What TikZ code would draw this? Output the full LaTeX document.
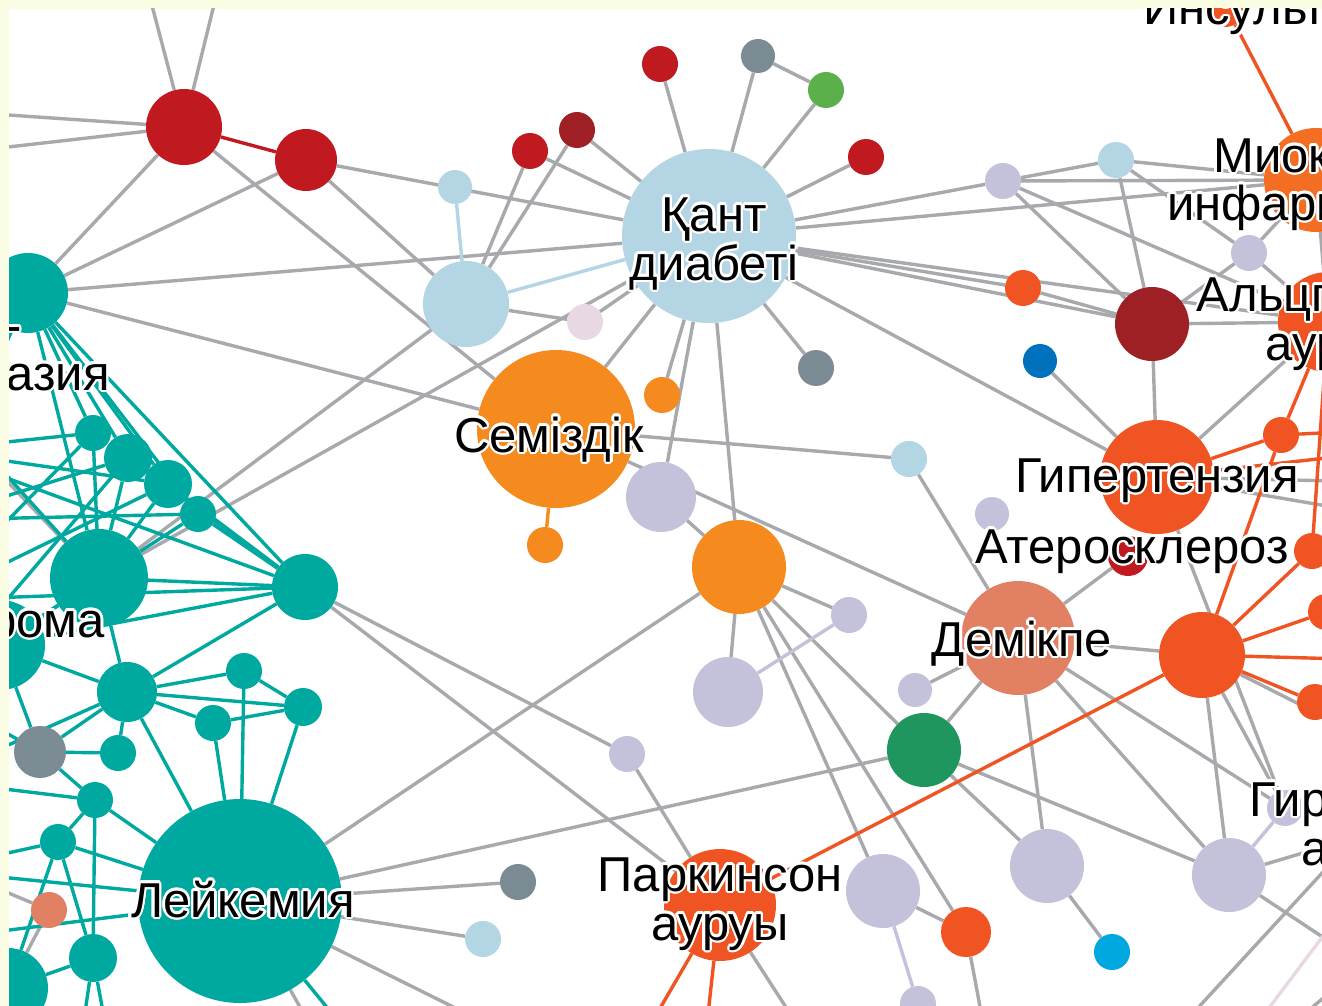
\documentclass[tikz,border=0pt]{standalone}
\usepackage{fontspec}
\setmainfont{Liberation Sans}
\usetikzlibrary{backgrounds}

\definecolor{paper}{RGB}{250,252,228}
\definecolor{edgegray}{RGB}{167,169,172}
\definecolor{cteal}{RGB}{0,169,160}
\definecolor{cred}{RGB}{193,25,32}
\definecolor{cdarkred}{RGB}{158,32,37}
\definecolor{clightblue}{RGB}{180,213,228}
\definecolor{clavender}{RGB}{196,194,219}
\definecolor{corange}{RGB}{245,139,31}
\definecolor{corangered}{RGB}{240,84,35}
\definecolor{cmiokard}{RGB}{243,110,34}
\definecolor{csalmon}{RGB}{225,128,99}
\definecolor{cslate}{RGB}{122,139,148}
\definecolor{cgreen}{RGB}{92,176,75}
\definecolor{cdarkgreen}{RGB}{31,150,94}
\definecolor{cpink}{RGB}{232,216,228}
\definecolor{cblue}{RGB}{0,113,189}
\definecolor{ccyan}{RGB}{0,168,225}

\tikzset{
  blob/.style 2 args={circle, fill=#1, inner sep=0pt, minimum size={2*#2}},
  link/.style={draw=edgegray, line width=3.4pt},
  tlink/.style={draw=cteal, line width=3.4pt},
  olink/.style={draw=corangered, line width=3.4pt},
  rlink/.style={draw=cred, line width=3.4pt},
  blink/.style={draw=clightblue, line width=3.4pt},
  vlink/.style={draw=clavender, line width=3.4pt},
  orlink/.style={draw=corange, line width=3.4pt},
  plink/.style={draw=cpink, line width=3.4pt},
  lbl/.style={font=\fontsize{49}{49}\selectfont, inner sep=0pt, align=center, text=black},
}

% label with a thin white halo round the letters
\newcommand\halolabel[4][]{%
  \foreach \ang in {0,22.5,...,337.5}
    \node[lbl, #1, text=white, shift={(\ang:2.5pt)}] at (#3) {#4};
  \node[lbl, #1] (#2) at (#3) {#4};
}

\pgfdeclarelayer{background}
\pgfsetlayers{background,main}

\begin{document}
\begin{tikzpicture}[x=1pt, y=-1pt]
\useasboundingbox (0,0) rectangle (1322,1006);

\begin{scope}
\clip (9,9) rectangle (1322,1006);

% ends of links that leave the frame
\coordinate (up1) at (140,-40);
\coordinate (up2) at (225,-40);
\coordinate (lf1) at (-80,109);
\coordinate (lf2) at (-80,157);
\coordinate (gl1) at (-70,400);
\coordinate (gl2) at (-70,860);
\coordinate (oLa) at (-70,390);
\coordinate (oLb) at (-70,450);
\coordinate (oLc) at (-70,520);
\coordinate (oLd) at (-70,600);
\coordinate (oLe) at (-70,690);
\coordinate (oLf) at (-70,780);
\coordinate (oLg) at (-70,870);
\coordinate (oLh) at (-70,940);
\coordinate (rHTa) at (1380,452);
\coordinate (rHTb) at (1380,482);
\coordinate (rHTc) at (1380,515);
\coordinate (rOR2) at (1380,430);
\coordinate (rOR4) at (1380,660);
\coordinate (rOR4g) at (1380,745);
\coordinate (rL9a) at (1380,830);
\coordinate (rL9b) at (1380,975);
\coordinate (bOR7) at (990,1060);
\coordinate (bPAa) at (630,1060);
\coordinate (bPAb) at (703,1060);
\coordinate (bPAc) at (820,1060);
\coordinate (bLKa) at (560,1060);
\coordinate (bLKb) at (330,1060);
\coordinate (bLKc) at (370,1060);
\coordinate (bT11a) at (78,1060);
\coordinate (bT11b) at (112,1060);
\coordinate (bx1) at (1150,1060);
\coordinate (rx1) at (1380,810);
\coordinate (bx2) at (1230,1060);
\coordinate (rx2) at (1380,860);
\coordinate (bx3) at (1250,1060);
\coordinate (rx3) at (1380,950);

% top row
\node[blob={cred}{38}] (R1) at (184,127) {};
\node[blob={cred}{31}] (R2) at (306,160) {};
\node[blob={clightblue}{17}] (LB1) at (455,187) {};
\node[blob={cred}{18}] (RS1) at (530,151) {};
\node[blob={cdarkred}{18}] (DR1) at (577,130) {};
\node[blob={cred}{18}] (RS2) at (660,64) {};
\node[blob={cslate}{17}] (SL1) at (758,56) {};
\node[blob={cgreen}{18}] (G1) at (826,90) {};
\node[blob={cred}{18}] (RS3) at (866,157) {};
\node[blob={clightblue}{87}] (QD) at (709,236) {};
\node[blob={clightblue}{43}] (LB2) at (466,304) {};
\node[blob={cpink}{18}] (PK) at (585,322) {};

% right side
\node[blob={corangered}{22}] (IN) at (1225,5) {};
\node[blob={clavender}{18}] (L1) at (1003,181) {};
\node[blob={clightblue}{18}] (LB4) at (1116,160) {};
\node[blob={cmiokard}{52}] (MI) at (1316,180) {};
\node[blob={clavender}{18}] (L2) at (1249,253) {};
\node[blob={corangered}{18}] (OR1) at (1023,288) {};
\node[blob={cdarkred}{37}] (DR2) at (1152,324) {};
\node[blob={corangered}{50}] (AZ) at (1328,322) {};
\node[blob={cblue}{17}] (BL) at (1040,361) {};
\node[blob={corangered}{57}] (HT) at (1157,477) {};
\node[blob={cred}{20}] (AT) at (1128,556) {};
\node[blob={corangered}{18}] (OR2) at (1281,435) {};
\node[blob={corangered}{18}] (OR3) at (1312,551) {};
\node[blob={corangered}{43}] (OR4) at (1202,655) {};
\node[blob={corangered}{18}] (OR5) at (1326,612) {};
\node[blob={corangered}{18}] (OR6) at (1315,702) {};
\node[blob={csalmon}{57}] (DM) at (1018,638) {};
\node[blob={clavender}{17}] (L6) at (992,514) {};
\node[blob={clavender}{17}] (L7) at (915,690) {};
\node[blob={cdarkgreen}{37}] (DG) at (924,750) {};
\node[blob={clavender}{37}] (L8) at (1047,866) {};
\node[blob={clavender}{37}] (L9) at (1229,875) {};
\node[blob={clavender}{18}] (L12) at (1285,808) {};
\node[blob={ccyan}{18}] (CY) at (1112,952) {};

% middle
\node[blob={cslate}{18}] (SL2) at (816,368) {};
\node[blob={corange}{18}] (O1) at (662,395) {};
\node[blob={corange}{79}] (SZ) at (556,429) {};
\node[blob={corange}{18}] (O2) at (545,545) {};
\node[blob={clavender}{35}] (L3) at (661,497) {};
\node[blob={corange}{47}] (O3) at (739,567) {};
\node[blob={clavender}{18}] (L4) at (849,615) {};
\node[blob={clavender}{35}] (L5) at (728,692) {};
\node[blob={clightblue}{18}] (LB3) at (909,459) {};
\node[blob={clavender}{18}] (L13) at (627,754) {};
\node[blob={clavender}{37}] (L10) at (883,891) {};
\node[blob={corangered}{25}] (OR7) at (966,932) {};
\node[blob={clavender}{18}] (L11) at (918,1004) {};
\node[blob={corangered}{56}] (PA) at (720,905) {};
\node[blob={cslate}{18}] (SL3) at (518,882) {};
\node[blob={clightblue}{18}] (LB5) at (483,939) {};

% teal cluster on the left
\node[blob={cteal}{40}] (T1) at (28,293) {};
\node[blob={cteal}{18}] (TA) at (93,433) {};
\node[blob={cteal}{24}] (TB) at (128,458) {};
\node[blob={cteal}{24}] (TC) at (168,484) {};
\node[blob={cteal}{18}] (TD) at (198,514) {};
\node[blob={cteal}{49}] (T2) at (99,578) {};
\node[blob={cteal}{33}] (T3) at (305,587) {};
\node[blob={cteal}{45}] (LY) at (0,645) {};
\node[blob={cteal}{30}] (T4) at (127,692) {};
\node[blob={cteal}{18}] (T5) at (244,671) {};
\node[blob={cteal}{19}] (T6) at (303,707) {};
\node[blob={cteal}{18}] (T7) at (213,723) {};
\node[blob={cslate}{26}] (GR) at (40,752) {};
\node[blob={cteal}{18}] (T8) at (118,753) {};
\node[blob={cteal}{18}] (T9) at (95,800) {};
\node[blob={cteal}{18}] (T10) at (58,842) {};
\node[blob={csalmon}{18}] (SA) at (49,910) {};
\node[blob={cteal}{24}] (T11) at (93,958) {};
\node[blob={cteal}{40}] (T12) at (8,988) {};
\node[blob={cteal}{102}] (LK) at (240,901) {};

% labels (base = baseline of the last line)
\halolabel[anchor=base]{QDl}{714,280}{Қант\\диабеті}
\halolabel[anchor=base]{SZl}{549,452}{Семіздік}
\halolabel[anchor=base]{HTl}{1157,492}{Гипертензия}
\halolabel[anchor=base]{ATl}{1132,563}{Атеросклероз}
\halolabel[anchor=base]{DMl}{1022,656}{Демікпе}
\halolabel[anchor=base]{LKl}{243,917}{Лейкемия}
\halolabel[anchor=base]{PAl}{720,940}{Паркинсон\\ауруы}
\halolabel[anchor=base]{AZl}{1334,360}{Альцгеймер\\ауруы}
\halolabel[anchor=base]{L12l}{1370,865}{Гиршпрунг\\ауруы}
\halolabel[anchor=base west]{MIl}{1213,172}{Миокард}
\halolabel[anchor=base west]{MIm}{1167,220}{инфаркті}
\halolabel[anchor=base west]{INl}{1143,25}{Инсульт}
\halolabel[anchor=base east]{T1l}{22,342}{Миело-}
\halolabel[anchor=base east]{T1m}{110,390}{дисплазия}
\halolabel[anchor=base east]{LYl}{105,637}{Лимфома}
\end{scope}

\begin{pgfonlayer}{background}
\fill[paper] (0,0) rectangle (1322,1006);
\fill[white] (9,9) rectangle (1322,1006);
\clip (9,9) rectangle (1322,1006);

% grey links
\foreach \n in {up1,up2,lf1,lf2,T1,SZ} \draw[link] (R1) -- (\n);
\foreach \n in {T1,LB2,QD} \draw[link] (R2) -- (\n);
\draw[link] (T1) -- (QD);
\draw[link] (T1) -- (SZ);
\foreach \n in {LB2,QD,gl1} \draw[link] (T2) -- (\n);
\foreach \n in {RS1,DR1,RS2,SL1,G1,RS3,PK,SZ,O1,L3,O3,SL2,L1,MI,OR1,DR2,HT,AZ} \draw[link] (QD) -- (\n);
\draw[link] (SL1) -- (G1);
\draw[link] (RS1) -- (LB2);
\draw[link] (DR1) -- (LB2);
\draw[link] (LB2) -- (PK);
\draw[link] (SZ) -- (LB3);
\draw[link] (SZ) -- (DM);
\draw[link] (L3) -- (O3);
\foreach \n in {L4,L5,LK,L10,OR7,DG} \draw[link] (O3) -- (\n);
\draw[link] (LB3) -- (DM);
\foreach \n in {LB4,MI,DR2,AZ} \draw[link] (L1) -- (\n);
\foreach \n in {MI,DR2,L2} \draw[link] (LB4) -- (\n);
\foreach \n in {MI,DR2,AZ} \draw[link] (L2) -- (\n);
\draw[link] (MI) -- (AZ);
\draw[link] (OR1) -- (DR2);
\draw[link] (DR2) -- (HT);
\draw[link] (DR2) -- (AZ);
\draw[link] (BL) -- (HT);
\foreach \n in {AZ,L12,rHTb,rHTc} \draw[link] (HT) -- (\n);
\foreach \n in {DM,L9,L12,rOR4g} \draw[link] (OR4) -- (\n);
\foreach \n in {AT,L7,DG,L8,L9,L12} \draw[link] (DM) -- (\n);
\draw[link] (DG) -- (L8);
\draw[link] (DG) -- (L9);
\draw[link] (L8) -- (CY);
\draw[link] (L9) -- (rL9a);
\draw[link] (L9) -- (rL9b);
\draw[link] (L10) -- (OR7);
\draw[link] (OR7) -- (bOR7);
\draw[link] (T3) -- (L13);
\draw[link] (T3) -- (PA);
\draw[link] (L13) -- (PA);
\draw[link] (PA) -- (bPAc);
\foreach \n in {DG,SL3,LB5,bLKa,bLKb} \draw[link] (LK) -- (\n);
\draw[link] (SA) -- (gl2);
\draw[link] (SA) -- (T12);
\draw[link] (bx1) -- (rx1);
\draw[link] (bx3) -- (rx3);
\draw[plink] (bx2) -- (rx2);

% coloured links
\draw[rlink] (R1) -- (R2);
\draw[blink] (LB1) -- (LB2);
\draw[blink] (LB2) -- (QD);
\draw[orlink] (SZ) -- (O2);
\draw[vlink] (L4) -- (L5);
\draw[vlink] (L10) -- (L11);
\draw[vlink] (L9) -- (L12);
\draw[olink] (IN) -- (MI);
\foreach \n in {OR2,rHTa} \draw[olink] (HT) -- (\n);
\foreach \n in {OR4,AZ,rOR2} \draw[olink] (OR2) -- (\n);
\draw[olink] (OR3) -- (OR4);
\draw[olink] (OR3) -- (AZ);
\foreach \n in {OR5,OR6,rOR4,PA} \draw[olink] (OR4) -- (\n);
\draw[olink] (PA) -- (bPAa);
\draw[olink] (PA) -- (bPAb);

% teal links
\foreach \n in {TA,TB,TC,TD,T2,T3,oLc} \draw[tlink] (T1) -- (\n);
\foreach \n in {T2,oLb,oLd} \draw[tlink] (TA) -- (\n);
\foreach \n in {T2,T3,oLc,oLe} \draw[tlink] (TB) -- (\n);
\foreach \n in {T2,T3,oLb,oLd} \draw[tlink] (TC) -- (\n);
\foreach \n in {T2,T3,oLc} \draw[tlink] (TD) -- (\n);
\foreach \n in {T3,T4,LY,oLa,oLe} \draw[tlink] (T2) -- (\n);
\foreach \n in {T4,LY,oLb,oLd} \draw[tlink] (T3) -- (\n);
\foreach \n in {T5,T6,T7,T8,GR,LK,LY,oLf} \draw[tlink] (T4) -- (\n);
\draw[tlink] (T5) -- (T6);
\draw[tlink] (T5) -- (LK);
\draw[tlink] (T6) -- (T7);
\draw[tlink] (T6) -- (LK);
\draw[tlink] (T7) -- (LK);
\foreach \n in {T8,T9,LY,oLe} \draw[tlink] (GR) -- (\n);
\foreach \n in {LK,T10,T11,oLf} \draw[tlink] (T9) -- (\n);
\foreach \n in {T11,LK,T12,oLg} \draw[tlink] (T10) -- (\n);
\foreach \n in {oLg,oLh,bLKc} \draw[tlink] (LK) -- (\n);
\foreach \n in {T12,bT11a,bT11b} \draw[tlink] (T11) -- (\n);
\end{pgfonlayer}
\end{tikzpicture}
\end{document}
